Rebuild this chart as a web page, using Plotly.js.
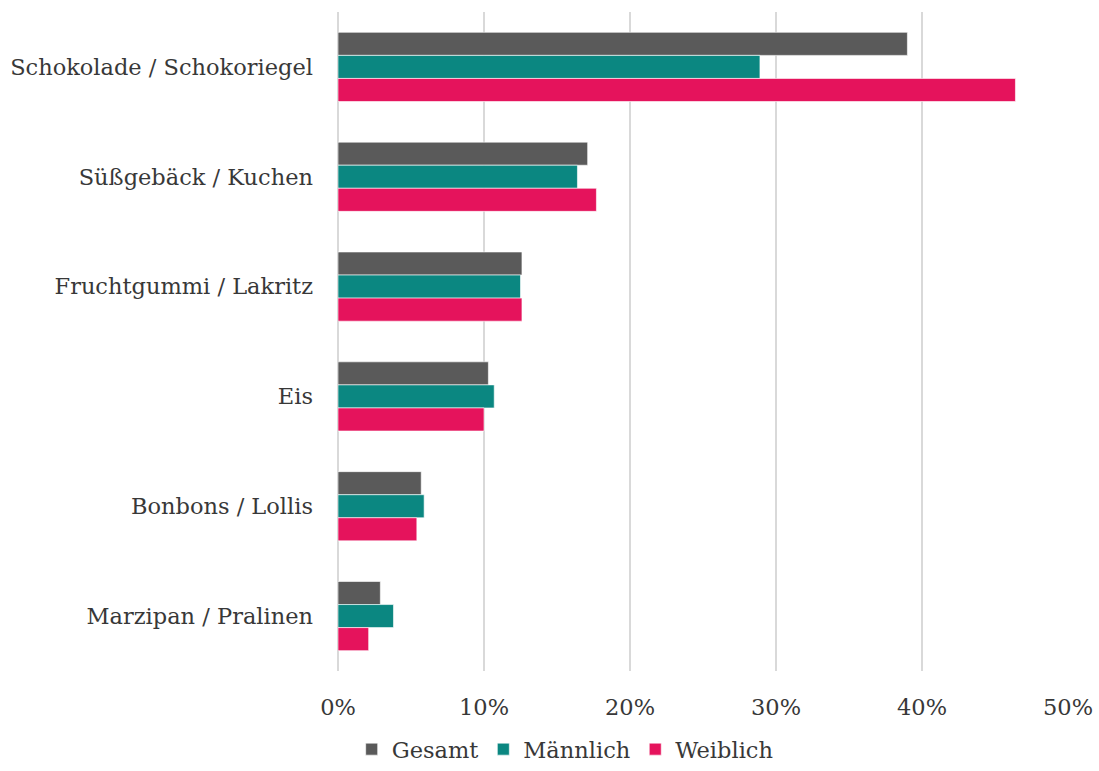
<!DOCTYPE html>
<html>
<head>
<meta charset="utf-8">
<script src="https://cdn.plot.ly/plotly-3.0.1.min.js"></script>
<style>
  html, body { margin: 0; padding: 0; background: #fff; }
  #chart { width: 1099px; height: 771px; }
</style>
</head>
<body>
<div id="chart"></div>
<script>
const categories = [
    "Schokolade / Schokoriegel",
    "Süßgebäck / Kuchen",
    "Fruchtgummi / Lakritz",
    "Eis",
    "Bonbons / Lollis",
    "Marzipan / Pralinen"
];
const gesamt    = [0.390, 0.171, 0.126, 0.103, 0.057, 0.029];
const maennlich = [0.289, 0.164, 0.125, 0.107, 0.059, 0.038];
const weiblich  = [0.464, 0.177, 0.126, 0.100, 0.054, 0.021];

const seriesNames = ["Gesamt", "Männlich", "Weiblich"];
const seriesColors = ["#5a5a5a", "#0b8781", "#e5135c"];
const seriesValues = [gesamt, maennlich, weiblich];

function drawChart(){
    const traces = seriesValues.map((vals, i) => ({
        type: "bar",
        orientation: "h",
        name: seriesNames[i],
        y: categories,
        x: vals,
        marker: {
            color: seriesColors[i],
            line: { color: "rgba(255,255,255,0.6)", width: 1 }
        },
        hoverinfo: "x+name"
    }));

    Plotly.newPlot("chart", traces, {
        width: 1099,
        height: 771,
        barmode: "group",
        bargap: 0.37,
        bargroupgap: 0,
        font: { family: "DejaVu Serif, serif", size: 22.5, color: "#383838" },
        paper_bgcolor: "#fff",
        plot_bgcolor: "#fff",
        margin: { t: 12, r: 31, b: 100, l: 338 },
        xaxis: {
            range: [0, 0.5],
            dtick: 0.1,
            tickformat: ".0%",
            showgrid: true,
            gridcolor: "#d9d9d9",
            gridwidth: 2,
            zeroline: true,
            zerolinecolor: "#d9d9d9",
            zerolinewidth: 2,
            ticks: "",
            ticklabelstandoff: 20,
            automargin: false,
            fixedrange: true
        },
        yaxis: {
            autorange: "reversed",
            showgrid: false,
            zeroline: false,
            ticks: "",
            ticklabelstandoff: 24,
            automargin: false,
            fixedrange: true
        },
        showlegend: true,
        legend: {
            orientation: "h",
            xref: "container",
            yref: "container",
            x: 0.32,
            xanchor: "left",
            y: 0,
            yanchor: "bottom",
            traceorder: "normal",
            font: { size: 22.5 },
            itemwidth: 30
        }
    }, { displayModeBar: false });
}

document.addEventListener("DOMContentLoaded", drawChart);
</script>
</body>
</html>
